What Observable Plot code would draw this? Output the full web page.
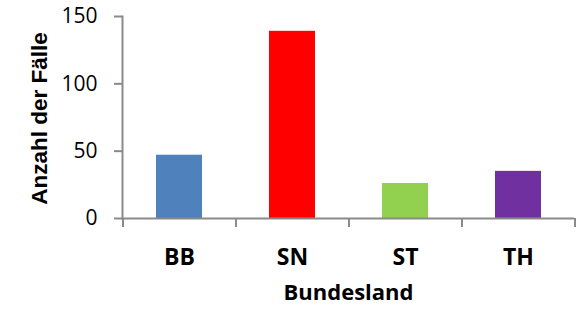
<!DOCTYPE html>
<html><head><meta charset="utf-8">
<script src="https://cdn.jsdelivr.net/npm/d3@7"></script>
<script src="https://cdn.jsdelivr.net/npm/@observablehq/plot@0.6"></script>
<style>body{margin:0;background:#fff}</style>
</head><body><div id="chart"></div>
<script>
const categories = ["BB", "SN", "ST", "TH"];
const values = [47, 139, 26, 35];
const colors = ["#4F81BD", "#FF0000", "#92D050", "#7030A0"];
const yTicks = [0, 50, 100, 150];
const xLabel = "Bundesland";
const yLabel = "Anzahl der Fälle";

const data = categories.map((c, i) => ({cat: c, value: values[i]}));
const W = 576, H = 310, mL = 122, mR = 2, mT = 16, mB = 92;
const step = (W - mL - mR) / categories.length;
const axisColor = "#8a8a8a";

const chart = Plot.plot({
  width: W, height: H,
  marginLeft: mL, marginRight: mR, marginTop: mT, marginBottom: mB,
  style: {fontFamily: "'Open Sans', sans-serif", background: "#fff", color: "#000", overflow: "visible"},
  x: {domain: categories, paddingInner: 0.593, paddingOuter: 0.2965},
  y: {domain: [0, 150]},
  color: {domain: categories, range: colors},
  marks: [
    Plot.barY(data, {x: "cat", y: "value", fill: "cat"}),
    Plot.frame({anchor: "left", stroke: axisColor, strokeWidth: 2}),
    Plot.ruleY([0], {stroke: axisColor, strokeWidth: 2}),
    Plot.axisY({ticks: yTicks, tickSize: 8, tickPadding: 17, fontSize: 21, stroke: axisColor, strokeWidth: 2, label: null}),
    Plot.axisX({ticks: categories, tickSize: 9, text: null, label: null, stroke: axisColor, strokeWidth: 2, dx: -step / 2}),
    Plot.axisX({ticks: [categories[categories.length - 1]], tickSize: 9, text: null, label: null, stroke: axisColor, strokeWidth: 2, dx: step / 2}),
    Plot.axisX({tickSize: 0, tickPadding: 30, fontSize: 23, fontWeight: "bold", label: null}),
    Plot.text([xLabel], {frameAnchor: "bottom", dy: 81, fontSize: 22, fontWeight: "bold", fill: "#000"}),
    Plot.text([yLabel], {frameAnchor: "left", dx: -83, dy: 1, rotate: -90, textAnchor: "middle", fontSize: 22.5, fontWeight: "bold", fontFamily: "'Liberation Sans', Arial, sans-serif", fill: "#000"})
  ]
});
document.getElementById("chart").appendChild(chart);
</script>
</body></html>
